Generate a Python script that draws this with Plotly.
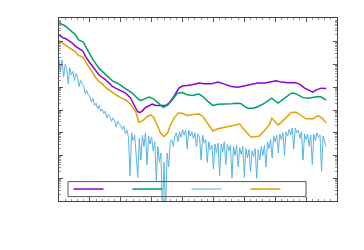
import plotly.graph_objects as go

# ---- data ----
purple_x = [0.00,0.11,0.22,0.32,0.43,0.54,0.63,0.70,0.78,0.86,0.97,1.08,1.19,1.29,1.40,1.51,1.62,1.73,1.83,2.00,
            2.16,2.32,2.43,2.54,2.61,2.70,2.80,2.91,3.02,3.13,3.24,3.34,3.45,3.56,3.72,3.88,4.01,4.15,4.31,4.53,
            4.71,4.93,5.15,5.36,5.58,5.79,6.01,6.22,6.44,6.66,6.87,7.03,7.19,7.41,7.63,7.79,7.95,8.11,8.22,8.33,
            8.49,8.65]
purple_y = [2.04e-1,1.56e-1,1.36e-1,1.11e-1,8.77e-2,6.25e-2,4.93e-2,4.46e-2,3.77e-2,2.26e-2,1.36e-2,8.22e-3,
            4.95e-3,3.53e-3,2.69e-3,2.12e-3,1.52e-3,1.08e-3,9.12e-4,6.97e-4,5.50e-4,3.31e-4,1.80e-4,8.55e-5,
            7.73e-5,9.16e-5,1.29e-4,1.57e-4,1.80e-4,1.57e-4,1.57e-4,1.52e-4,1.57e-4,2.00e-4,3.92e-4,9.12e-4,
            1.16e-3,1.20e-3,1.28e-3,1.52e-3,1.42e-3,1.42e-3,1.68e-3,1.37e-3,1.08e-3,1.01e-3,1.16e-3,1.42e-3,
            1.52e-3,1.52e-3,1.79e-3,1.92e-3,1.68e-3,1.57e-3,1.62e-3,1.37e-3,9.12e-4,6.97e-4,6.08e-4,7.71e-4,
            9.12e-4,8.83e-4]

green_x = [0.00,0.11,0.22,0.32,0.43,0.54,0.63,0.70,0.78,0.86,0.97,1.08,1.19,1.29,1.40,1.51,1.62,1.73,1.89,2.05,
           2.21,2.37,2.54,2.64,2.75,2.91,3.07,3.24,3.37,3.51,3.67,3.83,3.99,4.15,4.31,4.53,4.66,4.82,4.98,5.15,
           5.36,5.58,5.79,5.90,6.01,6.12,6.28,6.44,6.66,6.82,6.89,6.98,7.09,7.19,7.36,7.52,7.63,7.73,7.90,8.06,
           8.22,8.38,8.49,8.65]
green_y = [6.7e-1,5.6e-1,4.8e-1,3.6e-1,2.7e-1,2.0e-1,1.2e-1,1.1e-1,1.0e-1,6.3e-2,3.2e-2,1.8e-2,1.1e-2,6.9e-3,
           5.0e-3,3.5e-3,2.5e-3,1.9e-3,1.5e-3,1.1e-3,8.2e-4,5.5e-4,3.3e-4,2.6e-4,3.0e-4,3.7e-4,3.0e-4,1.8e-4,
           1.3e-4,1.6e-4,2.8e-4,5.5e-4,5.9e-4,4.7e-4,4.3e-4,5.0e-4,3.9e-4,2.4e-4,1.6e-4,1.8e-4,1.8e-4,1.9e-4,
           2.0e-4,1.9e-4,1.4e-4,1.2e-4,1.2e-4,1.4e-4,2.0e-4,2.8e-4,3.3e-4,2.6e-4,2.0e-4,2.5e-4,3.9e-4,5.5e-4,
           5.5e-4,4.7e-4,3.5e-4,3.3e-4,3.5e-4,3.9e-4,3.7e-4,2.7e-4]

blue_x = [0.00,0.05,0.10,0.15,0.20,0.25,0.30,0.35,0.40,0.45,0.50,0.55,0.60,0.65,0.70,0.75,0.80,0.85,0.90,0.95,
          1.00,1.05,1.10,1.15,1.20,1.25,1.30,1.35,1.40,1.45,1.50,1.55,1.60,1.65,1.70,1.75,1.80,1.85,1.90,1.95,
          2.00,2.05,2.10,2.15,2.20,2.25,2.30,2.35,2.40,2.45,2.50,2.55,2.60,2.65,2.70,2.75,2.80,2.85,2.90,2.95,
          3.00,3.05,3.10,3.15,3.20,3.25,3.30,3.35,3.40,3.45,3.50,3.55,3.60,3.65,3.70,3.75,3.80,3.85,3.90,3.95,
          4.00,4.05,4.10,4.15,4.20,4.25,4.30,4.35,4.40,4.45,4.50,4.55,4.60,4.65,4.70,4.75,4.80,4.85,4.90,4.95,
          5.00,5.05,5.10,5.15,5.20,5.25,5.30,5.35,5.40,5.45,5.50,5.55,5.60,5.65,5.70,5.75,5.80,5.85,5.90,5.95,
          6.00,6.05,6.10,6.15,6.20,6.25,6.30,6.35,6.40,6.45,6.50,6.55,6.60,6.65,6.70,6.75,6.80,6.85,6.90,6.95,
          7.00,7.05,7.10,7.15,7.20,7.25,7.30,7.35,7.40,7.45,7.50,7.55,7.60,7.65,7.70,7.75,7.80,7.85,7.90,7.95,
          8.00,8.05,8.10,8.15,8.20,8.25,8.30,8.35,8.40,8.45,8.50,8.55,8.60,8.65]
blue_y = [1.8e-2,5.0e-3,1.6e-2,2.8e-3,1.0e-2,6.3e-3,1.4e-3,7.1e-3,3.5e-3,5.0e-3,2.0e-3,4.0e-3,2.8e-3,1.1e-3,
          2.0e-3,1.4e-3,1.1e-3,5.0e-4,7.1e-4,4.5e-4,4.0e-4,
          2.2e-4,3.2e-4,1.6e-4,2.0e-4,1.1e-4,1.6e-4,8.9e-5,1.1e-4,7.1e-5,8.9e-5,4.5e-5,6.3e-5,5.0e-5,3.2e-5,
          4.5e-5,3.5e-5,1.8e-5,3.2e-5,2.5e-5,2.0e-5,
          1.4e-5,2.0e-5,8.9e-6,1.3e-5,6.3e-6,1.3e-7,1.0e-5,4.5e-6,7.9e-6,1.3e-6,1.1e-7,5.6e-6,6.3e-7,7.9e-6,
          2.5e-6,1.0e-5,4.0e-7,7.1e-6,3.2e-6,6.3e-6,
          1.6e-6,4.0e-6,7.9e-8,2.5e-6,5.0e-7,1.3e-6,3.2e-9,5.0e-7,3.2e-9,1.3e-6,3.2e-7,4.0e-6,5.0e-6,2.5e-6,
          7.1e-6,1.0e-5,4.0e-6,1.1e-5,6.3e-6,1.4e-5,7.9e-6,1.3e-5,2.0e-6,1.3e-5,7.1e-6,1.1e-5,5.6e-6,1.0e-5,
          2.5e-6,8.9e-6,
          6.3e-6,6.3e-7,7.9e-6,3.5e-6,5.0e-6,5.0e-7,4.0e-6,1.8e-6,2.8e-6,2.5e-7,3.2e-6,1.3e-6,3.5e-6,1.3e-7,
          3.2e-6,1.4e-6,4.0e-6,4.0e-7,3.2e-6,1.6e-6,2.8e-6,1.0e-7,2.5e-6,1.0e-6,2.8e-6,3.2e-7,2.2e-6,1.1e-6,
          2.5e-6,1.1e-7,2.0e-6,7.9e-7,1.8e-6,2.0e-7,1.6e-6,8.9e-7,2.0e-6,1.0e-7,1.8e-6,6.3e-7,2.5e-6,1.0e-6,
          2.8e-6,3.2e-7,4.0e-6,2.0e-6,
          5.0e-6,7.9e-7,7.1e-6,4.0e-6,7.9e-6,1.3e-6,8.9e-6,5.0e-6,1.0e-5,1.0e-6,1.1e-5,7.1e-6,1.4e-5,7.9e-6,
          1.6e-5,2.0e-6,1.6e-5,1.0e-5,1.3e-5,5.6e-6,1.1e-5,6.3e-7,8.9e-6,5.0e-6,8.9e-6,2.5e-6,7.9e-6,4.0e-7,
          8.9e-6,4.5e-6,1.0e-5,6.3e-6,7.9e-6,2.0e-7,7.1e-6,4.0e-6,2.5e-6]

orange_x = [0.00,0.11,0.22,0.32,0.43,0.54,0.63,0.70,0.78,0.86,0.97,1.08,1.19,1.29,1.40,1.51,1.67,1.83,2.00,2.16,
            2.32,2.48,2.59,2.70,2.86,2.97,3.07,3.18,3.29,3.40,3.51,3.61,3.72,3.86,3.99,4.15,4.31,4.53,4.66,4.82,
            4.98,5.15,5.36,5.58,5.74,5.85,5.95,6.12,6.22,6.39,6.49,6.66,6.82,6.89,6.98,7.09,7.19,7.36,7.52,7.68,
            7.84,8.00,8.22,8.38,8.49,8.65]
orange_y = [1.1e-1,8.8e-2,6.9e-2,5.7e-2,4.5e-2,3.5e-2,2.5e-2,2.3e-2,2.1e-2,1.3e-2,7.4e-3,4.6e-3,2.7e-3,1.8e-3,
            1.4e-3,9.8e-4,6.5e-4,4.7e-4,3.5e-4,2.8e-4,1.8e-4,8.6e-5,2.9e-5,3.3e-5,5.2e-5,6.1e-5,4.7e-5,2.2e-5,
            9.5e-6,6.8e-6,9.5e-6,2.2e-5,4.4e-5,7.2e-5,7.2e-5,5.7e-5,6.1e-5,6.8e-5,5.2e-5,2.4e-5,1.2e-5,1.5e-5,
            1.7e-5,1.9e-5,2.2e-5,2.4e-5,1.6e-5,8.6e-6,6.3e-6,6.8e-6,7.2e-6,1.3e-5,2.4e-5,4.4e-5,3.3e-5,2.2e-5,
            2.8e-5,4.7e-5,7.7e-5,8.0e-5,5.7e-5,4.1e-5,4.1e-5,5.7e-5,4.7e-5,2.8e-5]

series = [
    (purple_x, purple_y, "#9400D3", 1.5),
    (green_x, green_y, "#009E73", 1.5),
    (blue_x, blue_y, "#56B4E9", 1.0),
    (orange_x, orange_y, "#E69F00", 1.5),
]

fig = go.Figure()
for xs, ys, col, w in series:
    fig.add_trace(go.Scatter(x=xs, y=ys, mode="lines", name=" ",
                             line=dict(color=col, width=w)))

axis_common = dict(
    showline=True, linecolor="#444444", linewidth=1, mirror="ticks",
    ticks="inside", ticklen=4, tickcolor="#555555", tickwidth=1,
    showgrid=False, zeroline=False, showticklabels=False,
)
fig.update_xaxes(range=[0, 9], tick0=0, dtick=1,
                 minor=dict(dtick=0.2, ticks="inside", ticklen=2, tickcolor="#999999"),
                 **axis_common)
fig.update_yaxes(type="log", range=[-8, 0.044], dtick=1,
                 minor=dict(dtick="D1", ticks="inside", ticklen=2, tickcolor="#999999"),
                 **axis_common)

# key frame (gnuplot-style box around the legend)
fig.add_shape(type="rect", xref="paper", yref="paper",
              x0=0.0323, x1=0.8886, y0=0.024, y1=0.106,
              line=dict(color="#555555", width=1), fillcolor="rgba(0,0,0,0)", layer="above")

# page body adds an 8px offset, so the figure is sized to fit the window
fig.update_layout(
    width=356, height=242,
    margin=dict(l=51, r=27, t=10, b=49),
    paper_bgcolor="white", plot_bgcolor="white",
    showlegend=True,
    legend=dict(orientation="h", x=0.034, y=0.0657, xanchor="left", yanchor="middle",
                bgcolor="rgba(0,0,0,0)", borderwidth=0,
                entrywidth=14, entrywidthmode="pixels", font=dict(size=6),
                tracegroupgap=0),
)

fig.write_html("out.html")
